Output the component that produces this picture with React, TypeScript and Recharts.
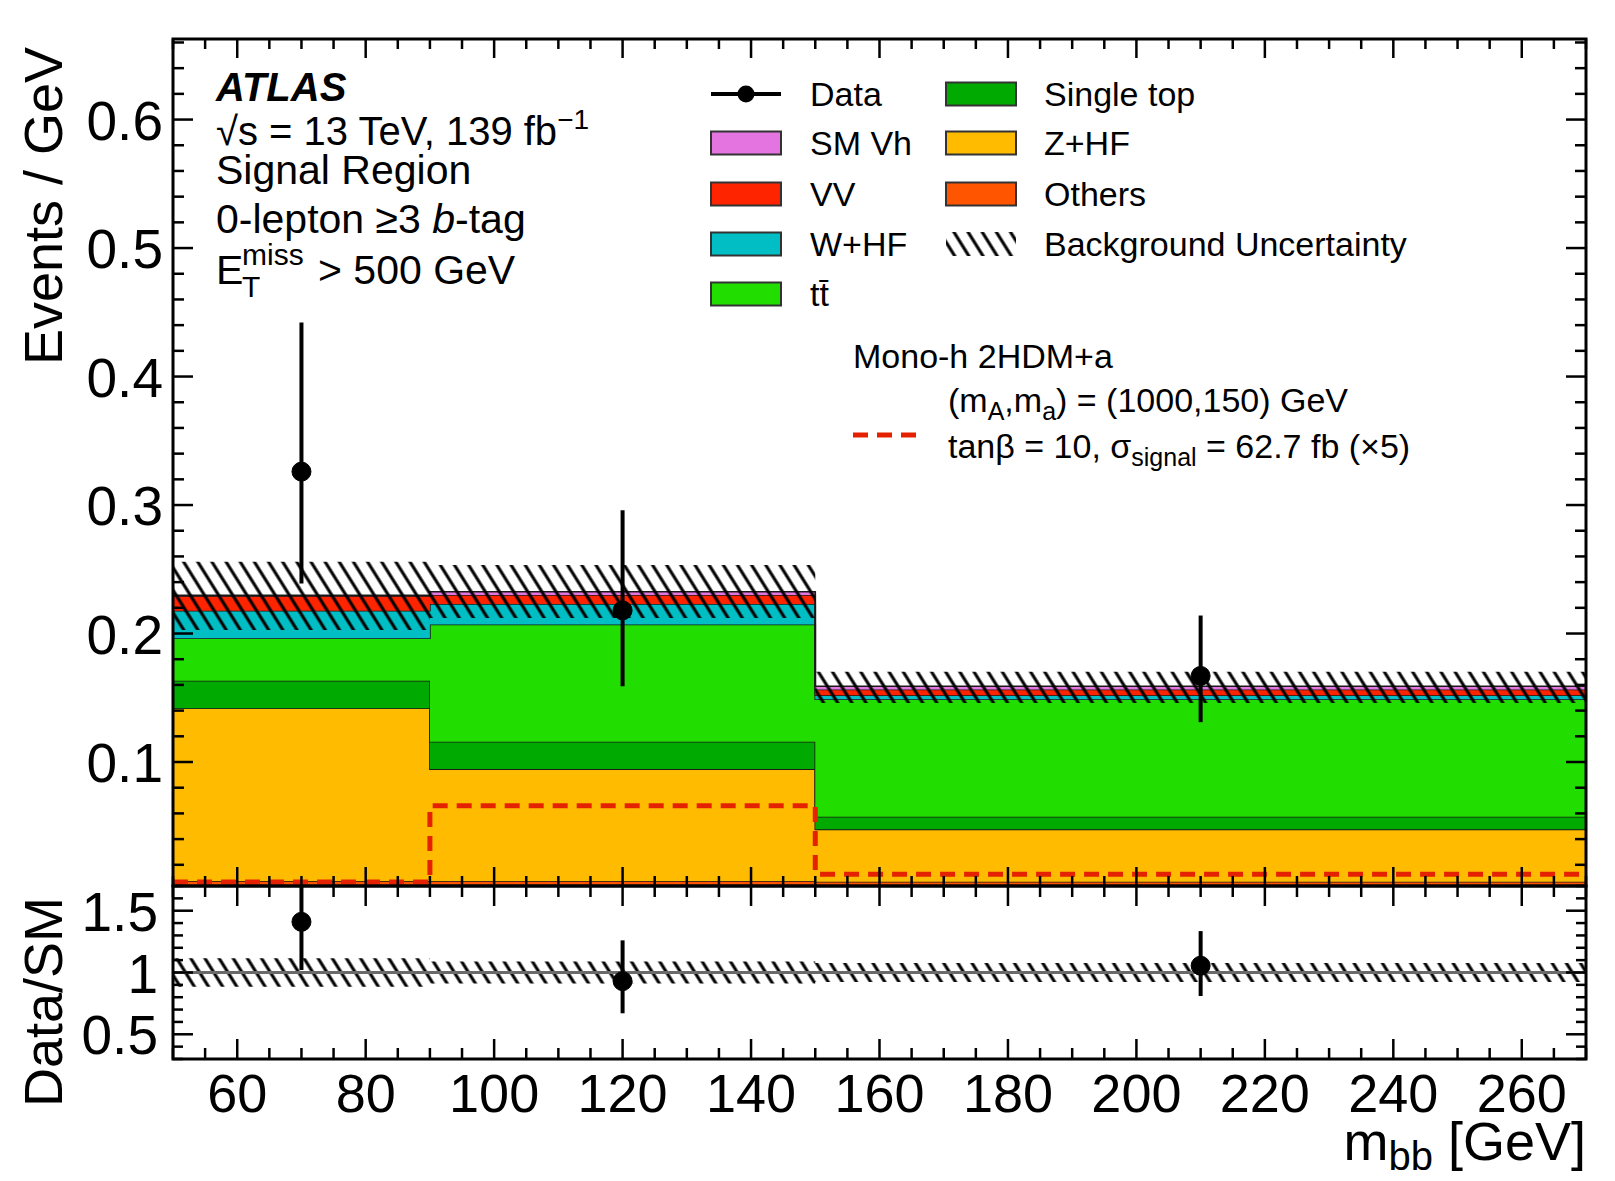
import React from "react";
import {
  Area,
  ComposedChart,
  ErrorBar,
  Line,
  ReferenceLine,
  Scatter,
  XAxis,
  YAxis,
} from "recharts";

// m_bb bins [GeV]: 50-90, 90-150, 150-270 (last edge repeats last bin for the step)
const binEdges = [50, 90, 150, 270];

// stacked backgrounds, Events / GeV, bottom to top
const others = [0.0074, 0.0074, 0.0069];
const zhf = [0.1344, 0.0871, 0.0407];
const singleTop = [0.0215, 0.0213, 0.0098];
const ttbar = [0.033, 0.0913, 0.0914];
const whf = [0.0215, 0.0159, 0.0032];
const vv = [0.0114, 0.007, 0.0045];
const smVh = [0.0005, 0.0025, 0.0025];

const bandLow = [0.2027, 0.212, 0.146];
const bandHigh = [0.2559, 0.2533, 0.1703];

// signal (x5), dashed
const signal = [0.0066, 0.066, 0.0126];

// data
const dataX = [70, 120, 210];
const dataY = [0.326, 0.218, 0.167];
const dataErrLow = [0.087, 0.059, 0.036];
const dataErrHigh = [0.116, 0.078, 0.047];

// ratio panel (first error bar runs off the top of the panel)
const ratioY = [1.41, 0.93, 1.055];
const ratioErrLow = [0.39, 0.26, 0.245];
const ratioErrHigh = [0.29, 0.33, 0.28];
const ratioBandLow = [0.884, 0.911, 0.923];
const ratioBandHigh = [1.116, 1.089, 1.077];

const xMajor = [60, 80, 100, 120, 140, 160, 180, 200, 220, 240, 260];
const mainYMajor = ["0.1", "0.2", "0.3", "0.4", "0.5", "0.6"];
const ratioYMajor = ["0.5", "1", "1.5"];

const xTicks: number[] = [];
for (let v = 50; v <= 270; v += 5) xTicks.push(v);
const mainYTicks: number[] = [];
for (let i = 1; i <= 33; i++) mainYTicks.push(Math.round(i * 2) / 100);
const ratioYTicks: number[] = [];
for (let i = 3; i <= 17; i++) ratioYTicks.push(i / 10);

const COLORS = {
  others: "#ff5500",
  zhf: "#ffbb00",
  singleTop: "#00aa00",
  ttbar: "#22dd00",
  whf: "#00bec3",
  vv: "#ff2400",
  smVh: "#e374e0",
  signal: "#e52200",
};

const FONT = "'Liberation Sans', Arial, Helvetica, sans-serif";
const W = 1615;
const H = 1181;
const LEFT = 173;
const RIGHT = 1586;
const PLOT_W = RIGHT - LEFT;
const MAIN_TOP = 39;
const MAIN_BOTTOM = 886;
const RATIO_BOTTOM = 1059;

const histRows = binEdges.map((edge, i) => {
  const b = Math.min(i, others.length - 1);
  return {
    x: edge,
    others: others[b],
    zhf: zhf[b],
    singleTop: singleTop[b],
    ttbar: ttbar[b],
    whf: whf[b],
    vv: vv[b],
    smVh: smVh[b],
    band: [bandLow[b], bandHigh[b]],
    signal: signal[b],
    ratioBand: [ratioBandLow[b], ratioBandHigh[b]],
  };
});

const dataPoints = dataX.map((x, i) => ({
  x,
  y: dataY[i],
  err: [dataErrLow[i], dataErrHigh[i]],
}));

const ratioPoints = dataX.map((x, i) => ({
  x,
  y: ratioY[i],
  err: [ratioErrLow[i], ratioErrHigh[i]],
}));

const isMajorX = (v: number) => xMajor.includes(v);

function makeXTick(top: number, majorLen: number, minorLen: number, labels: boolean) {
  return (p: any) => {
    const { x, y, payload } = p;
    const major = isMajorX(payload.value);
    const len = major ? majorLen : minorLen;
    return (
      <g>
        <line x1={x} x2={x} y1={y} y2={y - len} stroke="#000" strokeWidth={2.5} />
        <line x1={x} x2={x} y1={top} y2={top + len} stroke="#000" strokeWidth={2.5} />
        {labels && major && (
          <text x={x} y={y + 53} textAnchor="middle" fontSize={54} fontFamily={FONT} fill="#000">
            {payload.value}
          </text>
        )}
      </g>
    );
  };
}

function makeYTick(majors: string[], majorLen: number, minorLen: number, gap: number) {
  return (p: any) => {
    const { x, y, payload } = p;
    const label = String(Math.round(payload.value * 100) / 100);
    const major = majors.includes(label);
    const len = major ? majorLen : minorLen;
    return (
      <g>
        <line x1={x} x2={x + len} y1={y} y2={y} stroke="#000" strokeWidth={2.5} />
        <line x1={x + PLOT_W} x2={x + PLOT_W - len} y1={y} y2={y} stroke="#000" strokeWidth={2.5} />
        {major && (
          <text x={x - gap} y={y + 20} textAnchor="end" fontSize={55} fontFamily={FONT} fill="#000">
            {label}
          </text>
        )}
      </g>
    );
  };
}

const DataMarker = (p: any) => <circle cx={p.cx} cy={p.cy} r={9.5} fill="#000" stroke="#000" />;

function Hatch({ id }: { id: string }) {
  return (
    <pattern id={id} patternUnits="userSpaceOnUse" width={12} height={12} patternTransform="rotate(-32)">
      <line x1={2} y1={-1} x2={2} y2={13} stroke="#000" strokeWidth={3.1} />
    </pattern>
  );
}

function Stack() {
  const series: [keyof typeof COLORS, string][] = [
    ["others", COLORS.others],
    ["zhf", COLORS.zhf],
    ["singleTop", COLORS.singleTop],
    ["ttbar", COLORS.ttbar],
    ["whf", COLORS.whf],
    ["vv", COLORS.vv],
    ["smVh", COLORS.smVh],
  ];
  return series.map(([key, color]) => (
    <Area
      key={key}
      stackId="bkg"
      type="stepAfter"
      dataKey={key}
      fill={color}
      fillOpacity={1}
      stroke="#1a1a1a"
      strokeWidth={1.6}
      isAnimationActive={false}
    />
  ));
}

function MainPanel() {
  return (
    <ComposedChart
      width={W}
      height={900}
      data={histRows}
      margin={{ top: MAIN_TOP, right: W - RIGHT, bottom: 0, left: 0 }}
    >
      <defs>
        <Hatch id="hatchMain" />
      </defs>
      {Stack()}
      <Area
        type="stepAfter"
        dataKey="band"
        fill="url(#hatchMain)"
        fillOpacity={1}
        stroke="none"
        isAnimationActive={false}
      />
      <Line
        type="stepAfter"
        dataKey="signal"
        stroke={COLORS.signal}
        strokeWidth={5}
        strokeDasharray="15 9"
        dot={false}
        isAnimationActive={false}
      />
      <Scatter data={dataPoints} dataKey="y" fill="#000" shape={DataMarker} isAnimationActive={false}>
        <ErrorBar dataKey="err" direction="y" width={0} stroke="#000" strokeWidth={4} />
      </Scatter>
      <XAxis
        type="number"
        dataKey="x"
        domain={[50, 270]}
        ticks={xTicks}
        interval={0}
        allowDataOverflow
        height={900 - MAIN_BOTTOM}
        tickSize={0}
        tickMargin={0}
        axisLine={false}
        tick={makeXTick(MAIN_TOP, 19, 10, false)}
      />
      <YAxis
        type="number"
        domain={[0.0035, 0.6627]}
        ticks={mainYTicks}
        interval={0}
        allowDataOverflow
        width={LEFT}
        tickSize={0}
        tickMargin={0}
        axisLine={false}
        tick={makeYTick(mainYMajor, 20, 11, 10)}
      />
    </ComposedChart>
  );
}

function RatioPanel() {
  return (
    <ComposedChart
      width={W}
      height={H}
      data={histRows}
      margin={{ top: MAIN_BOTTOM, right: W - RIGHT, bottom: 0, left: 0 }}
    >
      <defs>
        <Hatch id="hatchRatio" />
      </defs>
      <ReferenceLine y={1} stroke="#6a6a6a" strokeWidth={3} />
      <Area
        type="stepAfter"
        dataKey="ratioBand"
        fill="url(#hatchRatio)"
        fillOpacity={1}
        stroke="none"
        isAnimationActive={false}
      />
      <Scatter data={ratioPoints} dataKey="y" fill="#000" shape={DataMarker} isAnimationActive={false}>
        <ErrorBar dataKey="err" direction="y" width={0} stroke="#000" strokeWidth={4} />
      </Scatter>
      <XAxis
        type="number"
        dataKey="x"
        domain={[50, 270]}
        ticks={xTicks}
        interval={0}
        allowDataOverflow
        height={H - RATIO_BOTTOM}
        tickSize={0}
        tickMargin={0}
        axisLine={false}
        tick={makeXTick(MAIN_BOTTOM, 20, 11, true)}
      />
      <YAxis
        type="number"
        domain={[0.3, 1.7]}
        ticks={ratioYTicks}
        interval={0}
        allowDataOverflow
        width={LEFT}
        tickSize={0}
        tickMargin={0}
        axisLine={false}
        tick={makeYTick(ratioYMajor, 20, 10, 15)}
      />
    </ComposedChart>
  );
}

function LegendBox({ x, y, color }: { x: number; y: number; color: string }) {
  return <rect x={x} y={y - 11.5} width={70} height={23} fill={color} stroke="#333" strokeWidth={2} />;
}

function Overlay() {
  const c1 = 711;
  const c2 = 946;
  const t1 = 810;
  const t2 = 1044;
  const rows = [94, 143, 194, 244, 294];
  const fs = 34;
  return (
    <svg
      width={W}
      height={H}
      style={{ position: "absolute", left: 0, top: 0, pointerEvents: "none" }}
      fontFamily={FONT}
    >
      <defs>
        <Hatch id="hatchLegend" />
      </defs>
      {/* frames */}
      <rect x={LEFT} y={MAIN_TOP} width={PLOT_W} height={MAIN_BOTTOM - MAIN_TOP} fill="none" stroke="#000" strokeWidth={3} />
      <rect x={LEFT} y={MAIN_BOTTOM} width={PLOT_W} height={RATIO_BOTTOM - MAIN_BOTTOM} fill="none" stroke="#000" strokeWidth={3} />

      {/* axis titles */}
      <text transform="translate(62,206) rotate(-90)" textAnchor="middle" fontSize={54}>
        Events / GeV
      </text>
      <text transform="translate(62,1002) rotate(-90)" textAnchor="middle" fontSize={54}>
        Data/SM
      </text>
      <text x={RIGHT} y={1160} textAnchor="end" fontSize={54}>
        m<tspan fontSize={40} dy={10}>bb</tspan>
        <tspan dy={-10}> [GeV]</tspan>
      </text>

      {/* ATLAS block */}
      <text x={216} y={101} fontSize={40} fontWeight="bold" fontStyle="italic">
        ATLAS
      </text>
      <text x={216} y={145} fontSize={40}>
        √s = 13 TeV, 139 fb<tspan fontSize={28} dy={-16}>−1</tspan>
      </text>
      <text x={216} y={184} fontSize={41}>
        Signal Region
      </text>
      <text x={216} y={233} fontSize={41}>
        0-lepton ≥3 <tspan fontStyle="italic">b</tspan>-tag
      </text>
      <text x={216} y={284} fontSize={41}>
        E
      </text>
      <text x={242} y={265} fontSize={30}>
        miss
      </text>
      <text x={242} y={297} fontSize={30}>
        T
      </text>
      <text x={318} y={284} fontSize={41}>
        {"> 500 GeV"}
      </text>

      {/* legend column 1 */}
      <line x1={c1} x2={c1 + 70} y1={rows[0]} y2={rows[0]} stroke="#000" strokeWidth={4} />
      <circle cx={c1 + 35} cy={rows[0]} r={8.5} fill="#000" />
      <text x={t1} y={rows[0] + 12} fontSize={fs}>Data</text>
      <LegendBox x={c1} y={rows[1]} color={COLORS.smVh} />
      <text x={t1} y={rows[1] + 12} fontSize={fs}>SM Vh</text>
      <LegendBox x={c1} y={rows[2]} color={COLORS.vv} />
      <text x={t1} y={rows[2] + 12} fontSize={fs}>VV</text>
      <LegendBox x={c1} y={rows[3]} color={COLORS.whf} />
      <text x={t1} y={rows[3] + 12} fontSize={fs}>W+HF</text>
      <LegendBox x={c1} y={rows[4]} color={COLORS.ttbar} />
      <text x={t1} y={rows[4] + 12} fontSize={fs}>tt̄</text>

      {/* legend column 2 */}
      <LegendBox x={c2} y={rows[0]} color={COLORS.singleTop} />
      <text x={t2} y={rows[0] + 12} fontSize={fs}>Single top</text>
      <LegendBox x={c2} y={rows[1]} color={COLORS.zhf} />
      <text x={t2} y={rows[1] + 12} fontSize={fs}>Z+HF</text>
      <LegendBox x={c2} y={rows[2]} color={COLORS.others} />
      <text x={t2} y={rows[2] + 12} fontSize={fs}>Others</text>
      <rect x={c2} y={rows[3] - 12} width={70} height={24} fill="url(#hatchLegend)" />
      <text x={t2} y={rows[3] + 12} fontSize={fs}>Background Uncertainty</text>

      {/* signal legend */}
      <text x={853} y={368} fontSize={fs}>Mono-h 2HDM+a</text>
      <text x={948} y={412} fontSize={fs}>
        (m<tspan fontSize={25} dy={8}>A</tspan>
        <tspan dy={-8}>,m</tspan>
        <tspan fontSize={25} dy={8}>a</tspan>
        <tspan dy={-8}>) = (1000,150) GeV</tspan>
      </text>
      <line x1={853} x2={920} y1={435} y2={435} stroke={COLORS.signal} strokeWidth={5} strokeDasharray="15 9" />
      <text x={948} y={458} fontSize={fs}>
        tanβ = 10, σ<tspan fontSize={25} dy={8}>signal</tspan>
        <tspan dy={-8}> = 62.7 fb (×5)</tspan>
      </text>
    </svg>
  );
}

export default function App() {
  return (
    <div
      style={{
        position: "absolute",
        left: 0,
        top: 0,
        width: W,
        height: H,
        background: "#fff",
        fontFamily: FONT,
        overflow: "hidden",
      }}
    >
      <div style={{ position: "absolute", left: 0, top: 0 }}>
        <MainPanel />
      </div>
      <div style={{ position: "absolute", left: 0, top: 0 }}>
        <RatioPanel />
      </div>
      <Overlay />
    </div>
  );
}
